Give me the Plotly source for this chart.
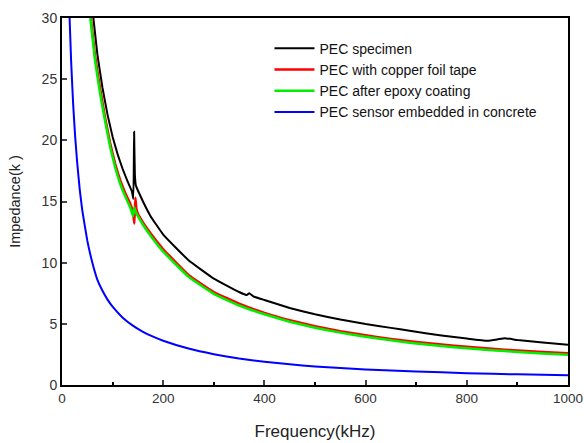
import plotly.graph_objects as go

# PEC specimen (black)
f_black = [62, 70, 80, 90, 100, 110, 120, 130, 138, 141, 142.5, 144, 146, 150, 160, 175, 200, 250, 300, 350,
           365, 370, 378, 400, 450, 500, 550, 600, 650, 687, 750, 800, 840, 860, 875, 900, 950, 1000]
z_black = [30.0, 27.0, 24.3, 22.1, 20.3, 18.85, 17.65, 16.6, 15.85, 15.2, 20.7, 17.2, 16.3, 15.9, 15.0, 13.8, 12.3, 10.2, 8.7, 7.6,
           7.35, 7.5, 7.25, 6.95, 6.3, 5.78, 5.35, 4.98, 4.67, 4.43, 4.05, 3.8, 3.62, 3.72, 3.83, 3.68, 3.48, 3.3]

# PEC with copper foil tape (red)
f_red = [57, 65, 75, 85, 95, 105, 115, 125, 135, 140, 143, 145, 147, 150, 160, 175, 200, 250, 300, 350,
         400, 450, 500, 550, 600, 650, 700, 750, 800, 850, 900, 950, 1000]
z_red = [30.0, 27.0, 24.3, 21.9, 19.8, 18.1, 16.75, 15.7, 14.8, 14.2, 13.2, 15.3, 14.4, 14.0, 13.3, 12.4, 11.1, 9.0, 7.6, 6.65,
         5.9, 5.3, 4.8, 4.4, 4.06, 3.77, 3.52, 3.31, 3.12, 2.96, 2.81, 2.69, 2.6]

# PEC after epoxy coating (green)
f_green = [56, 65, 75, 85, 95, 105, 115, 125, 135, 140, 143, 146, 150, 160, 175, 200, 250, 300, 350,
           400, 450, 500, 550, 600, 650, 700, 750, 800, 850, 900, 950, 1000]
z_green = [30.0, 26.6, 23.9, 21.6, 19.5, 17.8, 16.45, 15.4, 14.5, 13.8, 14.5, 14.1, 13.8, 13.1, 12.2, 10.9, 8.85, 7.45, 6.5,
           5.78, 5.17, 4.68, 4.28, 3.94, 3.65, 3.4, 3.19, 3.0, 2.85, 2.7, 2.58, 2.48]

# PEC sensor embedded in concrete (blue)
f_blue = [15, 18, 22, 26, 30, 35, 40, 50, 60, 70, 80, 90, 100, 120, 140, 160, 180, 200, 250, 300, 350,
          400, 450, 500, 600, 700, 800, 900, 1000]
z_blue = [30.0, 26.5, 23.0, 20.3, 18.2, 16.0, 14.3, 11.8, 10.0, 8.6, 7.7, 6.98, 6.4, 5.5, 4.85, 4.35, 3.95, 3.62, 2.98, 2.52, 2.16,
          1.9, 1.69, 1.52, 1.27, 1.1, 0.97, 0.87, 0.79]

names = ["PEC specimen", "PEC with copper foil tape", "PEC after epoxy coating",
         "PEC sensor embedded in concrete"]
x_ticks = [0, 200, 400, 600, 800, 1000]
y_ticks = [0, 5, 10, 15, 20, 25, 30]

fig = go.Figure()
series = [(f_black, z_black, "#000000", 2), (f_red, z_red, "#ff0000", 2.5),
          (f_green, z_green, "#00ee00", 2.5), (f_blue, z_blue, "#0000ff", 2)]
for (fx, zy, col, w), nm in zip(series, names):
    fig.add_trace(go.Scatter(x=fx, y=zy, mode="lines", name=nm,
                             line=dict(color=col, width=w, shape="spline", smoothing=0.3)))

font_family = "Liberation Sans, Arial, sans-serif"
fig.update_layout(
    width=584, height=443,
    margin=dict(l=62, r=16, t=18, b=58),
    paper_bgcolor="white", plot_bgcolor="white",
    font=dict(family=font_family, size=14, color="#222222"),
    showlegend=True,
    legend=dict(x=0.41, y=0.96, xanchor="left", yanchor="top",
                bgcolor="rgba(0,0,0,0)", borderwidth=0,
                font=dict(size=14, color="#111111"), tracegroupgap=0, itemwidth=40),
    xaxis=dict(range=[0, 1000], tickvals=x_ticks, ticks="inside", ticklen=5, tickwidth=2,
               showline=True, linecolor="black", linewidth=2, mirror=True,
               showgrid=False, zeroline=False, automargin=False, ticklabeloverflow="allow",
               minor=dict(tickvals=[100, 300, 500, 700, 900], ticks="inside", ticklen=3,
                          tickwidth=2, tickcolor="black"),
               title=dict(text="Frequency(kHz)", font=dict(size=17), standoff=20),
               tickfont=dict(size=13.5, color="#333333")),
    yaxis=dict(range=[0, 30], tickvals=y_ticks, ticks="inside", ticklen=5, tickwidth=2,
               showline=True, linecolor="black", linewidth=2, mirror=True,
               showgrid=False, zeroline=False, automargin=False,
               title=dict(text="Impedance(k )", font=dict(size=14.5), standoff=18),
               tickfont=dict(size=14, color="#333333")),
)

fig.write_html("out.html", config={"displayModeBar": False},
               post_script="document.body.style.margin='0';document.body.style.overflow='hidden';")
